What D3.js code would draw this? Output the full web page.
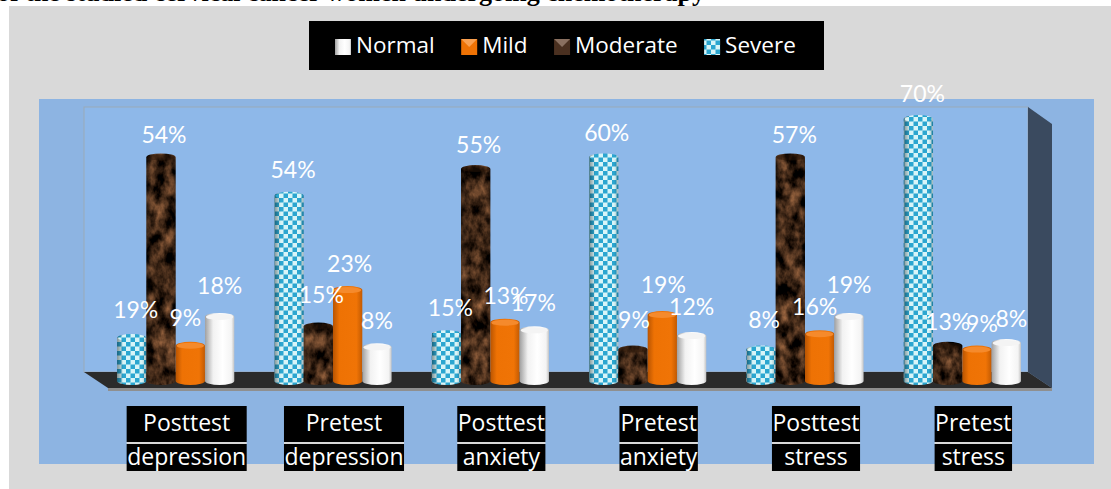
<!DOCTYPE html>
<html lang="en">
<head>
    <meta charset="UTF-8">
    <title>Depression, anxiety and stress levels</title>
    <script src="https://d3js.org/d3.v7.min.js"></script>
    <style>
        html, body { margin: 0; padding: 0; background: #ffffff; overflow: hidden; }
        svg { display: block; }
        text { font-family: 'Open Sans', sans-serif; }
    </style>
</head>
<body>
    <svg width="1111" height="489"></svg>

    <script>
        // CHART DATA
        const categories = ["Posttest depression", "Pretest depression", "Posttest anxiety", "Pretest anxiety", "Posttest stress", "Pretest stress"];
        const seriesNames = ["Severe", "Moderate", "Mild", "Normal"];
        const legendNames = ["Normal", "Mild", "Moderate", "Severe"];

        // heights as drawn in the picture (they do not always agree with the printed labels)
        const severeValues = [13, 50, 14, 60, 10, 70];
        const moderateValues = [60, 16, 57, 10, 60, 11];
        const mildValues = [11, 25.5, 17, 19, 14, 10];
        const normalValues = [18.5, 10.6, 15, 13.5, 18.5, 11.7];

        // printed labels
        const severeLabels = ["19%", "54%", "15%", "60%", "8%", "70%"];
        const moderateLabels = ["54%", "15%", "55%", "9%", "57%", "13%"];
        const mildLabels = ["9%", "23%", "13%", "19%", "16%", "9%"];
        const normalLabels = ["18%", "8%", "17%", "12%", "19%", "8%"];

        const values = [severeValues, moderateValues, mildValues, normalValues];
        const labels = [severeLabels, moderateLabels, mildLabels, normalLabels];

        // hand placed label shifts, same order as the series
        const labelNudge = [
            [[4, -1], [4, 1], [4, 1], [3, 2], [3, -3], [4, 2]],
            [[3, 4], [3, -5], [3, 3], [1, -3], [4, 4], [0, 3]],
            [[-5, -1], [2, 1], [1, 0], [1, -3], [-5, 0], [5, 1]],
            [[0, -4], [0, 0], [-1, -1], [0, -2], [0, -5], [5, 3]]
        ];

        const svg = d3.select("svg");
        const defs = svg.append("defs");

        // Frame
        const floorBack = 372, floorFront = 388, wallTop = 107, wallLeft = 84, wallRight = 1028, depthX = 24, depthY = 17;

        svg.append("text")
           .attr("x", 705).attr("y", 1)
           .attr("text-anchor", "end")
           .style("font-family", "'Liberation Serif', serif")
           .style("font-weight", "bold")
           .style("font-size", "26px")
           .text("of the studied cervical cancer women undergoing chemotherapy");

        svg.append("rect").attr("x", 9).attr("y", 6).attr("width", 1102).attr("height", 483).attr("fill", "#d9d9d9");
        svg.append("rect").attr("x", 39).attr("y", 99).attr("width", 1055).attr("height", 365).attr("fill", "#8db4e2");

        // back wall, side wall, floor
        svg.append("rect").attr("x", wallLeft).attr("y", wallTop).attr("width", wallRight - wallLeft).attr("height", floorBack - wallTop)
           .attr("fill", "#8eb8e9").attr("stroke", "#9aa9b8").attr("stroke-width", 1);
        svg.append("path")
           .attr("d", `M${wallRight},${wallTop}L${wallRight + depthX},${wallTop + depthY}L${wallRight + depthX},${floorFront}L${wallRight},${floorBack}Z`)
           .attr("fill", "#3a4a5f");
        svg.append("path")
           .attr("d", `M${wallLeft},${floorBack}L${wallRight},${floorBack}L${wallRight + depthX},${floorFront}L${wallLeft + depthX},${floorFront}Z`)
           .attr("fill", "#2b2b2b");
        svg.append("rect").attr("x", wallLeft + depthX).attr("y", floorFront).attr("width", wallRight - wallLeft).attr("height", 3).attr("fill", "#8f8f8f");

        // Fills
        const checker = defs.append("pattern").attr("id", "checker").attr("patternUnits", "userSpaceOnUse").attr("width", 9).attr("height", 9);
        checker.append("rect").attr("width", 9).attr("height", 9).attr("fill", "#d8f5f8");
        checker.append("rect").attr("width", 4.5).attr("height", 4.5).attr("fill", "#2ba6d0");
        checker.append("rect").attr("x", 4.5).attr("y", 4.5).attr("width", 4.5).attr("height", 4.5).attr("fill", "#2ba6d0");

        const bark = defs.append("filter").attr("id", "bark").attr("x", "0%").attr("y", "0%").attr("width", "100%").attr("height", "100%")
            .attr("color-interpolation-filters", "sRGB");
        bark.append("feTurbulence").attr("type", "fractalNoise").attr("baseFrequency", "0.09 0.06").attr("numOctaves", 4).attr("seed", 7).attr("result", "noise");
        bark.append("feColorMatrix").attr("in", "noise").attr("type", "matrix")
            .attr("values", "1.1 0 0 0 -0.3  0.75 0 0 0 -0.22  0.5 0 0 0 -0.16  0 0 0 0 1").attr("result", "tint");
        bark.append("feComposite").attr("in", "tint").attr("in2", "SourceAlpha").attr("operator", "in");

        function shadeGradient(id, stops) {
            const g = defs.append("linearGradient").attr("id", id).attr("x1", "0%").attr("x2", "100%").attr("y1", "0%").attr("y2", "0%");
            g.selectAll("stop").data(stops).enter().append("stop")
             .attr("offset", d => d[0]).attr("stop-color", d => d[1]).attr("stop-opacity", d => d[2]);
        }
        shadeGradient("shadeMild", [["0%", "#b85402", 1], ["22%", "#ee7204", 1], ["80%", "#f07406", 1], ["100%", "#c25a02", 1]]);
        shadeGradient("shadeNormal", [["0%", "#a0a0a0", 1], ["28%", "#f2f2f2", 1], ["60%", "#ffffff", 1], ["90%", "#f4f4f4", 1], ["100%", "#c4c4c4", 1]]);
        shadeGradient("shadeDark", [["0%", "#000000", 0.4], ["22%", "#000000", 0], ["85%", "#000000", 0], ["100%", "#000000", 0.25]]);

        const bodyFill = { Severe: "url(#checker)", Moderate: "#3a2010", Mild: "url(#shadeMild)", Normal: "url(#shadeNormal)" };
        const capFill = { Severe: "url(#checker)", Moderate: "#2a1508", Mild: "#f58a2c", Normal: "#f4f4f4" };

        // Scales
        const x0 = d3.scaleBand().domain(categories).range([wallLeft + depthX, wallRight + depthX]).paddingInner(0.255).paddingOuter(0.1275);
        const x1 = d3.scaleBand().domain(seriesNames).range([0, x0.bandwidth()]);
        const y = d3.scaleLinear().domain([0, 70]).range([388, 119]);
        const barShift = -11;
        const ry = 4;

        function cylinderPath(x, top, w, base) {
            return `M${x},${top}A${w / 2},${ry} 0 0 1 ${x + w},${top}L${x + w},${base}A${w / 2},${ry} 0 0 1 ${x},${base}Z`;
        }

        // Bars
        const barData = [];
        seriesNames.forEach((s, si) => {
            categories.forEach((c, ci) => {
                barData.push({ series: s, si, category: c, ci, value: values[si][ci], label: labels[si][ci] });
            });
        });

        const bars = svg.append("g").selectAll("g").data(barData).enter().append("g");
        const barX = d => x0(d.category) + x1(d.series) + barShift;
        const barW = x1.bandwidth();
        const baseY = y(0) - 7;

        bars.append("path")
            .attr("d", d => cylinderPath(barX(d), y(d.value), barW, baseY))
            .attr("fill", d => bodyFill[d.series])
            .attr("filter", d => d.series === "Moderate" ? "url(#bark)" : null);

        bars.filter(d => d.series === "Severe" || d.series === "Moderate")
            .append("path")
            .attr("d", d => cylinderPath(barX(d), y(d.value), barW, baseY))
            .attr("fill", "url(#shadeDark)");

        // cap highlight
        bars.append("ellipse")
            .attr("cx", d => barX(d) + barW / 2)
            .attr("cy", d => y(d.value))
            .attr("rx", barW / 2 - 1)
            .attr("ry", ry - 1)
            .attr("fill", d => capFill[d.series])
            .attr("opacity", d => d.series === "Moderate" ? 0.5 : 1);

        // Value labels
        svg.append("g").selectAll("text").data(barData).enter().append("text")
           .attr("x", d => barX(d) + barW / 2 + labelNudge[d.si][d.ci][0])
           .attr("y", d => y(d.value) - 27 + labelNudge[d.si][d.ci][1])
           .attr("dy", "0.36em")
           .attr("text-anchor", "middle")
           .attr("fill", "#ffffff")
           .style("font-family", "Lato, sans-serif")
           .style("font-size", "23px")
           .text(d => d.label);

        // X axis, two line tick labels on black boxes
        const xAxis = svg.append("g")
            .attr("transform", "translate(0,406)")
            .call(d3.axisBottom(x0).tickSize(0).tickPadding(0));
        xAxis.select(".domain").remove();

        xAxis.selectAll(".tick").each(function(c) {
            const tick = d3.select(this);
            tick.select("text").remove();
            const lines = c.split(" ");
            const texts = lines.map((line, i) => tick.append("text")
                .attr("y", i === 0 ? 17 : 51)
                .attr("dy", "0.36em")
                .attr("text-anchor", "middle")
                .attr("fill", "#ffffff")
                .style("font-size", "23px")
                .text(line));
            const boxW = d3.max(texts, t => t.node().getComputedTextLength()) + 1;
            tick.insert("rect", "text").attr("x", -boxW / 2).attr("y", 36).attr("width", boxW).attr("height", 2).attr("fill", "#d9d9d9");
            tick.insert("rect", "text").attr("x", -boxW / 2).attr("y", 0).attr("width", boxW).attr("height", 36).attr("fill", "#000");
            tick.insert("rect", "text").attr("x", -boxW / 2).attr("y", 38).attr("width", boxW).attr("height", 27).attr("fill", "#000");
        });

        // Legend
        const legend = svg.append("g");
        legend.append("rect").attr("x", 309).attr("y", 21).attr("width", 515).attr("height", 49).attr("fill", "#000");

        const legendFill = { Normal: "url(#shadeNormal)", Mild: "#ee7204", Moderate: "#4a3020", Severe: "url(#checker)" };
        let legendX = 335;
        legendNames.forEach(name => {
            legend.append("rect").attr("x", legendX).attr("y", 39).attr("width", 16).attr("height", 16).attr("fill", legendFill[name]);
            if (name === "Mild" || name === "Moderate") {
                legend.append("path")
                      .attr("d", `M${legendX},39L${legendX + 16},39L${legendX + 8},47Z`)
                      .attr("fill", name === "Mild" ? "#f9a050" : "#8a7060");
            }
            const t = legend.append("text")
                .attr("x", legendX + 21).attr("y", 45)
                .attr("dy", "0.36em")
                .attr("fill", "#ffffff")
                .style("font-size", "22.5px")
                .text(name);
            legendX += 21 + t.node().getComputedTextLength() + 26.5;
        });
    </script>
</body>
</html>
